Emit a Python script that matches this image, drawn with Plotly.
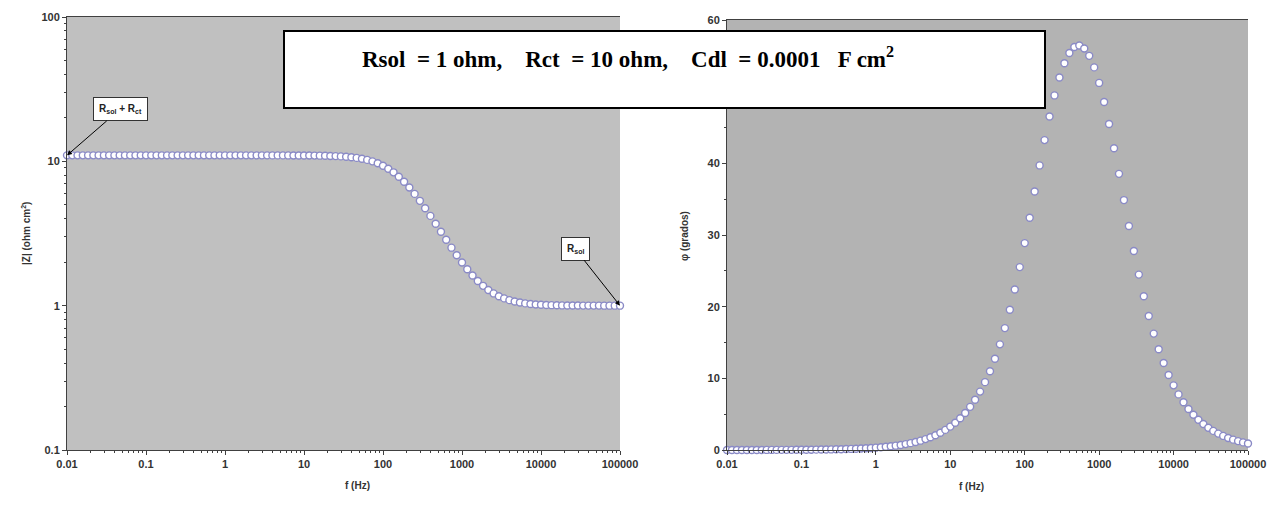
import math
import plotly.graph_objects as go

# ---------------- data ----------------
freq = [
    0.01, 0.01166, 0.01359, 0.01585, 0.01848, 0.02154, 0.02512, 0.02929, 0.03415, 0.03981, 0.04642, 0.05412, 0.0631, 0.07356, 0.08577,
    0.1, 0.1166, 0.1359, 0.1585, 0.1848, 0.2154, 0.2512, 0.2929, 0.3415, 0.3981, 0.4642, 0.5412, 0.631, 0.7356, 0.8577,
    1, 1.166, 1.359, 1.585, 1.848, 2.154, 2.512, 2.929, 3.415, 3.981, 4.642, 5.412, 6.31, 7.356, 8.577,
    10, 11.66, 13.59, 15.85, 18.48, 21.54, 25.12, 29.29, 34.15, 39.81, 46.42, 54.12, 63.1, 73.56, 85.77,
    100, 116.6, 135.9, 158.5, 184.8, 215.4, 251.2, 292.9, 341.5, 398.1, 464.2, 541.2, 631, 735.6, 857.7,
    1000, 1166, 1359, 1585, 1848, 2154, 2512, 2929, 3415, 3981, 4642, 5412, 6310, 7356, 8577,
    10000, 11659, 13594, 15849, 18478, 21544, 25119, 29286, 34146, 39811, 46416, 54117, 63096, 73564, 85770,
    100000,
]

mag = [
    11.0, 11.0, 11.0, 11.0, 11.0, 11.0, 11.0, 11.0, 11.0, 11.0, 11.0, 11.0, 11.0, 11.0, 11.0,
    11.0, 11.0, 11.0, 11.0, 11.0, 11.0, 11.0, 11.0, 11.0, 11.0, 11.0, 11.0, 11.0, 11.0, 11.0,
    11.0, 11.0, 11.0, 10.999, 10.999, 10.999, 10.999, 10.998, 10.998, 10.997, 10.995, 10.994, 10.991, 10.988, 10.984,
    10.979, 10.971, 10.960, 10.946, 10.927, 10.901, 10.867, 10.820, 10.757, 10.674, 10.564, 10.419, 10.232, 9.994, 9.695,
    9.329, 8.893, 8.389, 7.826, 7.219, 6.585, 5.948, 5.325, 4.735, 4.188, 3.691, 3.248, 2.860, 2.523, 2.235,
    1.991, 1.788, 1.619, 1.483, 1.372, 1.285, 1.216, 1.163, 1.123, 1.092, 1.068, 1.051, 1.037, 1.028, 1.020,
    1.015, 1.011, 1.008, 1.006, 1.004, 1.003, 1.002, 1.002, 1.001, 1.001, 1.001, 1.001, 1.000, 1.000, 1.000,
    1.000,
]

phase = [
    0.003, 0.004, 0.004, 0.005, 0.006, 0.007, 0.008, 0.010, 0.011, 0.013, 0.015, 0.018, 0.021, 0.024, 0.028,
    0.033, 0.038, 0.045, 0.052, 0.060, 0.071, 0.082, 0.096, 0.112, 0.130, 0.152, 0.177, 0.207, 0.241, 0.281,
    0.327, 0.382, 0.445, 0.519, 0.605, 0.705, 0.822, 0.958, 1.117, 1.303, 1.519, 1.771, 2.064, 2.406, 2.804,
    3.268, 3.808, 4.437, 5.168, 6.018, 7.004, 8.147, 9.468, 10.992, 12.741, 14.740, 17.009, 19.565, 22.402, 25.521,
    28.867, 32.41, 36.066, 39.71, 43.24, 46.53, 49.477, 51.982, 53.97, 55.397, 56.223, 56.434, 56.023, 55.00, 53.386,
    51.221, 48.564, 45.493, 42.112, 38.532, 34.872, 31.25, 27.761, 24.475, 21.448, 18.70, 16.242, 14.063, 12.147, 10.473,
    9.019, 7.758, 6.668, 5.728, 4.919, 4.222, 3.624, 3.110, 2.668, 2.289, 1.964, 1.684, 1.445, 1.239, 1.063,
    0.912,
]

freq_tick_vals = [0.01, 0.1, 1, 10, 100, 1000, 10000, 100000]
freq_tick_text = ["0.01", "0.1", "1", "10", "100", "1000", "10000", "100000"]
mag_tick_vals = [0.1, 1, 10, 100]
mag_tick_text = ["0.1", "1", "10", "100"]
phase_tick_vals = [0, 10, 20, 30, 40, 50, 60]
phase_tick_text = ["0", "10", "20", "30", "40", "50", "60"]

S = "\u00a0"
title_text = ("<b>Rsol" + S * 2 + "= 1 ohm," + S * 4 + "Rct" + S * 2 + "= 10 ohm," + S * 4 +
              "Cdl" + S * 2 + "= 0.0001" + S * 3 + "F cm<sup>2</sup></b>")
label_low = "<b>R<sub>sol</sub> + R<sub>ct</sub></b>"
label_high = "<b>R<sub>sol</sub></b>"
xtitle = "<b>f (Hz)</b>"
ytitle_left = "<b>|Z| (ohm cm<sup>2</sup>)</b>"
ytitle_right = "<b>\u03c6 (grados)</b>"

# ---------------- styling ----------------
W, H = 1277, 516
AX = "#404040"
SANS = "Liberation Sans, Arial"
TICKFONT = dict(family=SANS, size=11, color="#333333", weight="bold")
TITLEFONT = dict(family=SANS, size=10, color="#333333")
marker = dict(symbol="circle", size=7, color="white", line=dict(color="#8A8AC6", width=1.4))

def px_x(p):
    return p / W

def px_y(p):
    return 1 - p / H

minor_log = [m * 10 ** e for e in range(-2, 5) for m in range(2, 10)]
minor_log_y = [m * 10 ** e for e in range(-1, 2) for m in range(2, 10)]

fig = go.Figure()
fig.add_trace(go.Scatter(x=freq, y=mag, mode="markers", marker=marker,
                         xaxis="x", yaxis="y", cliponaxis=False, showlegend=False))
fig.add_trace(go.Scatter(x=freq, y=phase, mode="markers", marker=marker,
                         xaxis="x2", yaxis="y2", cliponaxis=False, showlegend=False))

common_x = dict(type="log", range=[-2, 5], tickmode="array", tickvals=freq_tick_vals,
                ticktext=freq_tick_text, ticks="outside", ticklen=4, tickcolor=AX,
                showline=True, linecolor=AX, linewidth=1, mirror=True, showgrid=False,
                zeroline=False, tickfont=TICKFONT,
                minor=dict(tickmode="array", tickvals=minor_log, ticks="outside",
                           ticklen=2, tickcolor=AX, showgrid=False),
                automargin=False)

fig.update_layout(
    width=W, height=H,
    margin=dict(l=0, r=0, t=0, b=0),
    paper_bgcolor="white",
    plot_bgcolor="#C0C0C0",
    showlegend=False,
    xaxis=dict(domain=[px_x(67), px_x(620)], anchor="y", **common_x),
    yaxis=dict(domain=[px_y(450), px_y(17)], anchor="x", type="log", range=[-1, 2],
               tickmode="array", tickvals=mag_tick_vals, ticktext=mag_tick_text,
               ticks="outside", ticklen=4, tickcolor=AX, showline=True, linecolor=AX,
               linewidth=1, showgrid=False, zeroline=False, tickfont=TICKFONT,
               minor=dict(tickmode="array", tickvals=minor_log_y, ticks="outside",
                          ticklen=2, tickcolor=AX, showgrid=False),
               automargin=False),
    xaxis2=dict(domain=[px_x(727), px_x(1248)], anchor="y2", **common_x),
    yaxis2=dict(domain=[px_y(450), px_y(20)], anchor="x2", range=[0, 60],
                tickmode="array", tickvals=phase_tick_vals, ticktext=phase_tick_text,
                ticks="outside", ticklen=4, tickcolor=AX, showline=True, linecolor=AX,
                linewidth=1, showgrid=False, zeroline=False, tickfont=TICKFONT,
                minor=dict(dtick=5, ticks="outside", ticklen=2, tickcolor=AX, showgrid=False),
                automargin=False),
)

# second panel is a bit darker
fig.add_shape(type="rect", xref="x2 domain", yref="y2 domain", x0=0, x1=1, y0=0, y1=1,
              fillcolor="#B3B3B3", line=dict(width=0), layer="below")

# axis titles
fig.add_annotation(xref="paper", yref="paper", x=px_x(343), y=px_y(493), text=xtitle,
                   showarrow=False, font=TITLEFONT)
fig.add_annotation(xref="paper", yref="paper", x=px_x(986), y=px_y(494), text=xtitle,
                   showarrow=False, font=TITLEFONT)
fig.add_annotation(xref="paper", yref="paper", x=px_x(18), y=px_y(234), text=ytitle_left,
                   showarrow=False, textangle=-90, font=TITLEFONT)
fig.add_annotation(xref="paper", yref="paper", x=px_x(685), y=px_y(236), text=ytitle_right,
                   showarrow=False, textangle=-90, font=TITLEFONT)

# parameter box
fig.add_shape(type="rect", xref="paper", yref="paper",
              x0=px_x(284), x1=px_x(1045), y0=px_y(108), y1=px_y(31),
              fillcolor="white", line=dict(color="black", width=2), layer="above")
fig.add_annotation(xref="paper", yref="paper", x=px_x(628), y=px_y(58),
                   text=title_text, showarrow=False, xanchor="center", yanchor="middle",
                   font=dict(family="Liberation Serif, Times New Roman", size=23, color="black"))

# callouts
fig.add_annotation(xref="x", yref="y", x=math.log10(freq[0]), y=math.log10(mag[0]),
                   text=label_low, showarrow=True, ax=53, ay=-46,
                   arrowhead=2, arrowsize=1, arrowwidth=1, arrowcolor="black",
                   bgcolor="white", bordercolor="#333333", borderwidth=1, borderpad=5,
                   font=dict(family=SANS, size=10, color="#222222"))
fig.add_annotation(xref="x", yref="y", x=math.log10(freq[-1]), y=math.log10(mag[-1]),
                   text=label_high, showarrow=True, ax=-45, ay=-57,
                   arrowhead=2, arrowsize=1, arrowwidth=1, arrowcolor="black",
                   bgcolor="white", bordercolor="#333333", borderwidth=1, borderpad=5,
                   font=dict(family=SANS, size=10, color="#222222"))

fig.write_html("out.html")
